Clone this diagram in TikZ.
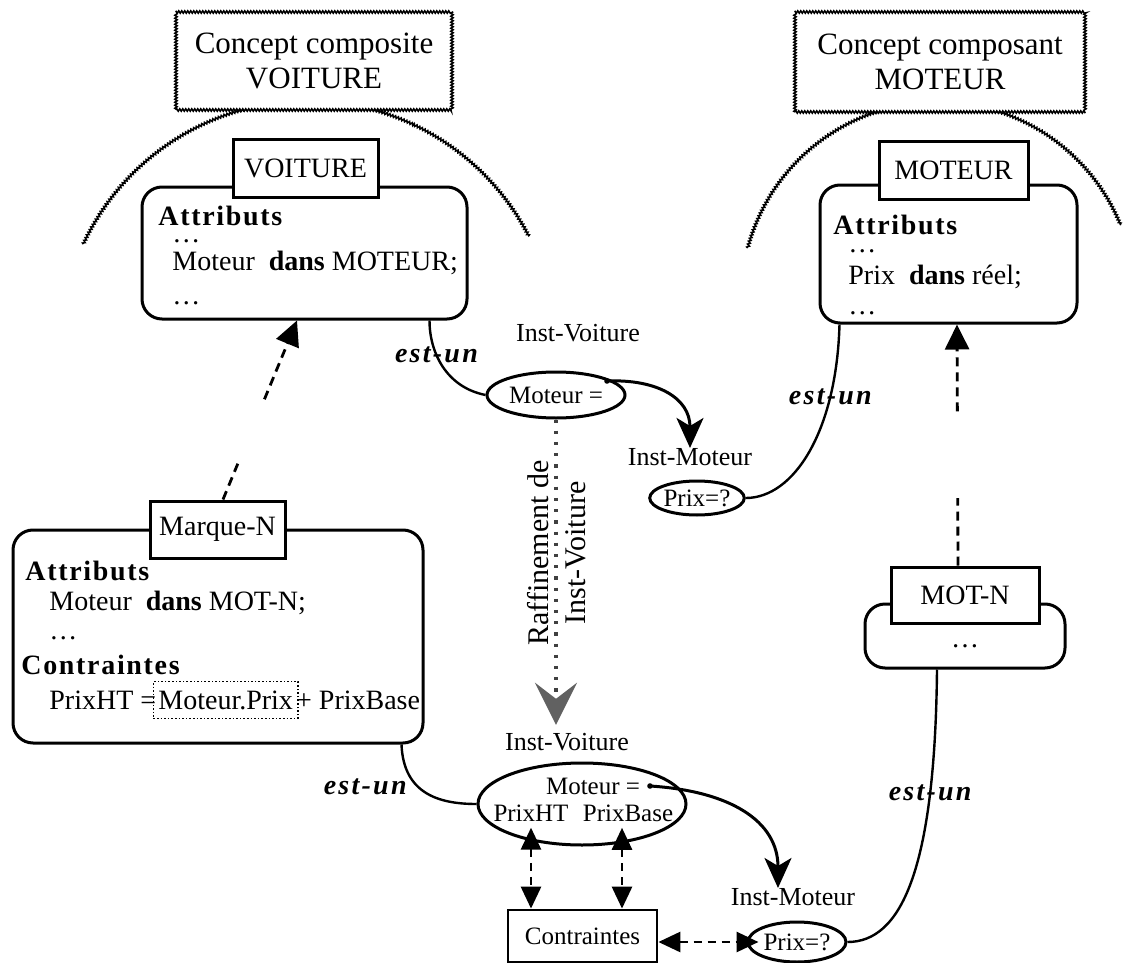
\documentclass[tikz,border=0pt]{standalone}
\usepackage{fontspec}
\setmainfont{Liberation Serif}
\usetikzlibrary{arrows.meta,calc,decorations.pathmorphing,shapes.geometric,positioning}

\newcommand{\kw}[1]{{\bfseries\addfontfeatures{LetterSpace=6}#1}}
\newcommand{\estun}{{\bfseries\itshape\addfontfeatures{LetterSpace=8}est-un}}

\begin{document}
\begin{tikzpicture}[x=.5pt,y=-.5pt,
	txt/.style={font=\fontsize{14}{17}\selectfont,inner sep=0pt},
	lbl/.style={font=\fontsize{13}{15}\selectfont,inner sep=0pt},
	valtxt/.style={font=\fontsize{12.5}{15}\selectfont,inner sep=1pt},
	wavy/.style={line width=.75pt,decorate,decoration={zigzag,segment length=1.5pt,amplitude=.6pt}},
	concept/.style={wavy,draw,fill=white,align=center,font=\fontsize{15.5}{17.5}\selectfont,inner sep=0pt},
	framebox/.style={draw,line width=1.5pt,rounded corners=10pt},
	namebox/.style={draw,fill=white,line width=1.5pt,font=\fontsize{14}{17}\selectfont},
	instnode/.style={draw,ellipse,line width=1.5pt,inner sep=0pt,font=\fontsize{12.5}{15}\selectfont},
	isa/.style={line width=1.2pt},
	valarrow/.style={line width=1.5pt,arrows={-Stealth[length=15pt,width=13.5pt,inset=4pt]}},
	spec/.style={line width=1.4pt,dash pattern=on 4.5pt off 3pt},
	spectip/.style={arrows={-Triangle[length=12.5pt,width=12pt]}},
	dblarrow/.style={line width=1.4pt,dash pattern=on 4pt off 3pt,arrows={Triangle[length=11pt,width=10pt]-Triangle[length=11pt,width=10pt]}},
	refine/.style={line width=2pt,black!75,dash pattern=on 1.6pt off 4pt,arrows={-Stealth[length=21pt,width=21pt,inset=8pt,color=black!62]}}]
	\useasboundingbox (0,0) rectangle (1130,963);
	
	% scope arcs, then the concept frames on top of them
	\draw[wavy] (83.2,244.2) arc[start angle=205,end angle=333,radius=248];
	\draw[wavy] (747.7,248) arc[start angle=195,end angle=338,radius=197];
	\node[concept,minimum width=138pt,minimum height=49pt] (cv) at (314,61) {Concept composite\\VOITURE};
	\node[concept,minimum width=145pt,minimum height=50pt] (cm) at (940,62) {Concept composant\\MOTEUR};
	
	\node[framebox,minimum width=162.5pt,minimum height=66pt] (voit) at (304.5,253) {};
	\node[namebox,minimum width=72.5pt,minimum height=28.5pt] (voitT) at (305.5,168.5) {VOITURE};
	\node[txt,anchor=west] (va1) at (158,216) {\kw{Attributs}};
	\node[txt,anchor=west] (va2) at (172,241) {\dots};
	\node[txt,anchor=west] (va3) at (172,263) {Moteur\enspace\textbf{dans} MOTEUR;};
	\node[txt,anchor=west] (va4) at (172,303) {\dots};
	
	\node[framebox,minimum width=128.5pt,minimum height=69pt] (moteur) at (948.5,254) {};
	\node[namebox,minimum width=74.5pt,minimum height=28.5pt] (moteurT) at (953.5,170.5) {MOTEUR};
	\node[txt,anchor=west] (mo1) at (833,225) {\kw{Attributs}};
	\node[txt,anchor=west] (mo2) at (848,251) {\dots};
	\node[txt,anchor=west] (mo3) at (848,277) {Prix\enspace\textbf{dans} réel;};
	\node[txt,anchor=west] (mo4) at (848,313) {\dots};
	
	\node[framebox,minimum width=205pt,minimum height=106.5pt] (marque) at (218,636.5) {};
	\node[namebox,minimum width=67.5pt,minimum height=28.5pt] (mqT) at (217.5,529.5) {Marque-N};
	\node[txt,anchor=west] (mq1) at (25,571) {\kw{Attributs}};
	\node[txt,anchor=west] (mq2) at (49,603) {Moteur\enspace\textbf{dans} MOT-N;};
	\node[txt,anchor=west] (mq3) at (49,638) {\dots};
	\node[txt,anchor=west] (mq4) at (21,665) {\kw{Contraintes}};
	\node[txt,anchor=west] (mq5) at (49,700) {PrixHT =};
	\node[txt,draw,densely dotted,line width=.8pt,inner xsep=2.5pt,minimum height=18.5pt,right=-2pt of mq5] (mq6) {Moteur.Prix};
	\node[txt,right=-1.5pt of mq6] (mq7) {+ PrixBase};
	
	\node[framebox,minimum width=100pt,minimum height=32pt] (motN) at (965,636) {};
	\node[namebox,minimum width=74pt,minimum height=28pt] (motNT) at (965,595) {MOT-N};
	\node[txt] (mn1) at (965,646) {\dots};
	
	% instances
	\node[lbl] (iv1) at (578,333) {Inst-Voiture};
	\node[instnode,minimum width=69pt,minimum height=23pt] (iv1e) at (556,395) {Moteur =};
	\coordinate (d1) at (607,381);
	\node[lbl] (im1) at (690,457) {Inst-Moteur};
	\node[instnode,minimum width=45pt,minimum height=17pt] (im1e) at (697,498) {Prix=?};
	
	\node[lbl] (iv2) at (567,742) {Inst-Voiture};
	\node[instnode,minimum width=104pt,minimum height=41pt] (iv2e) at (582,804) {};
	\node[valtxt] (iv2m) at (593,786) {Moteur =};
	\coordinate (d2) at (650,786);
	\node[valtxt] (ph) at (531,813) {PrixHT};
	\node[valtxt] (pb) at (628,813) {PrixBase};
	\node[lbl] (im2) at (793,897) {Inst-Moteur};
	\node[instnode,minimum width=49pt,minimum height=20pt] (im2e) at (797,942) {Prix=?};
	\node[draw,line width=1.4pt,minimum width=74.5pt,minimum height=26pt,font=\fontsize{12.5}{15}\selectfont] (ctr) at (582.5,936) {Contraintes};
	
	% est-un links
	\draw[isa] ([xshift=-19.5pt]voit.south east) .. controls +(0,31) and +(-40,-8) .. (iv1e.west) node[txt,pos=.37] (eu1) {\estun};
	\draw[isa] ([xshift=10.5pt]moteur.south west) .. controls +(-3,107) and +(48,0) .. (im1e.east) node[txt,pos=.25] (eu2) {\estun};
	\draw[isa] ([xshift=-11.5pt]marque.south east) .. controls +(2,49) and +(-38,0) .. (iv2e.west) node[txt,pos=.4,left=5pt] (eu3) {\estun};
	\draw[isa] ([xshift=-14pt]motN.south) .. controls +(-2,202) and +(53,0) .. (im2e.east) node[txt,pos=.24] (eu4) {\estun};
	
	% values
	\fill (d1) circle[radius=1.4pt];
	\fill (d2) circle[radius=1.4pt];
	\draw[valarrow] (d1) .. controls +(50,-2) and +(0,-50) .. (im1.north);
	\draw[valarrow] (d2) .. controls +(80,5) and +(0,-67) .. ([xshift=-7.5pt]im2.north);
	
	% specialisation
	\coordinate (s1) at ([xshift=2.75pt]mqT.north);
	\coordinate (t1) at ([xshift=-3.75pt]voit.south);
	\draw[spec] (s1) -- ($(s1)!.2!(t1)$);
	\draw[spec,spectip] ($(s1)!.56!(t1)$) -- (t1);
	\coordinate (s2) at ([xshift=-3.5pt]motNT.north);
	\coordinate (t2) at ([xshift=4.25pt]moteur.south);
	\draw[spec] (s2) -- ($(s2)!.28!(t2)$);
	\draw[spec,spectip] ($(s2)!.64!(t2)$) -- (t2);
	
	% refinement
	\coordinate (rf) at ([yshift=4pt]iv2.north);
	\draw[refine] (iv1e.south) -- (iv1e.south |- rf);
	\node[rotate=90,align=center,inner sep=0pt,font=\fontsize{15}{18.5}\selectfont] (rft) at (557,553) {Raffinement de\\Inst-Voiture};
	
	% constraints
	\coordinate (phs) at ([yshift=-2pt]ph.south);
	\coordinate (pbs) at ([xshift=-3pt,yshift=-2pt]pb.south);
	\draw[dblarrow] (phs) -- (phs |- ctr.north);
	\draw[dblarrow] (pbs) -- (pbs |- ctr.north);
	\draw[dblarrow] (ctr.east |- im2e.west) -- ([xshift=6pt]im2e.west);
\end{tikzpicture}
\end{document}
